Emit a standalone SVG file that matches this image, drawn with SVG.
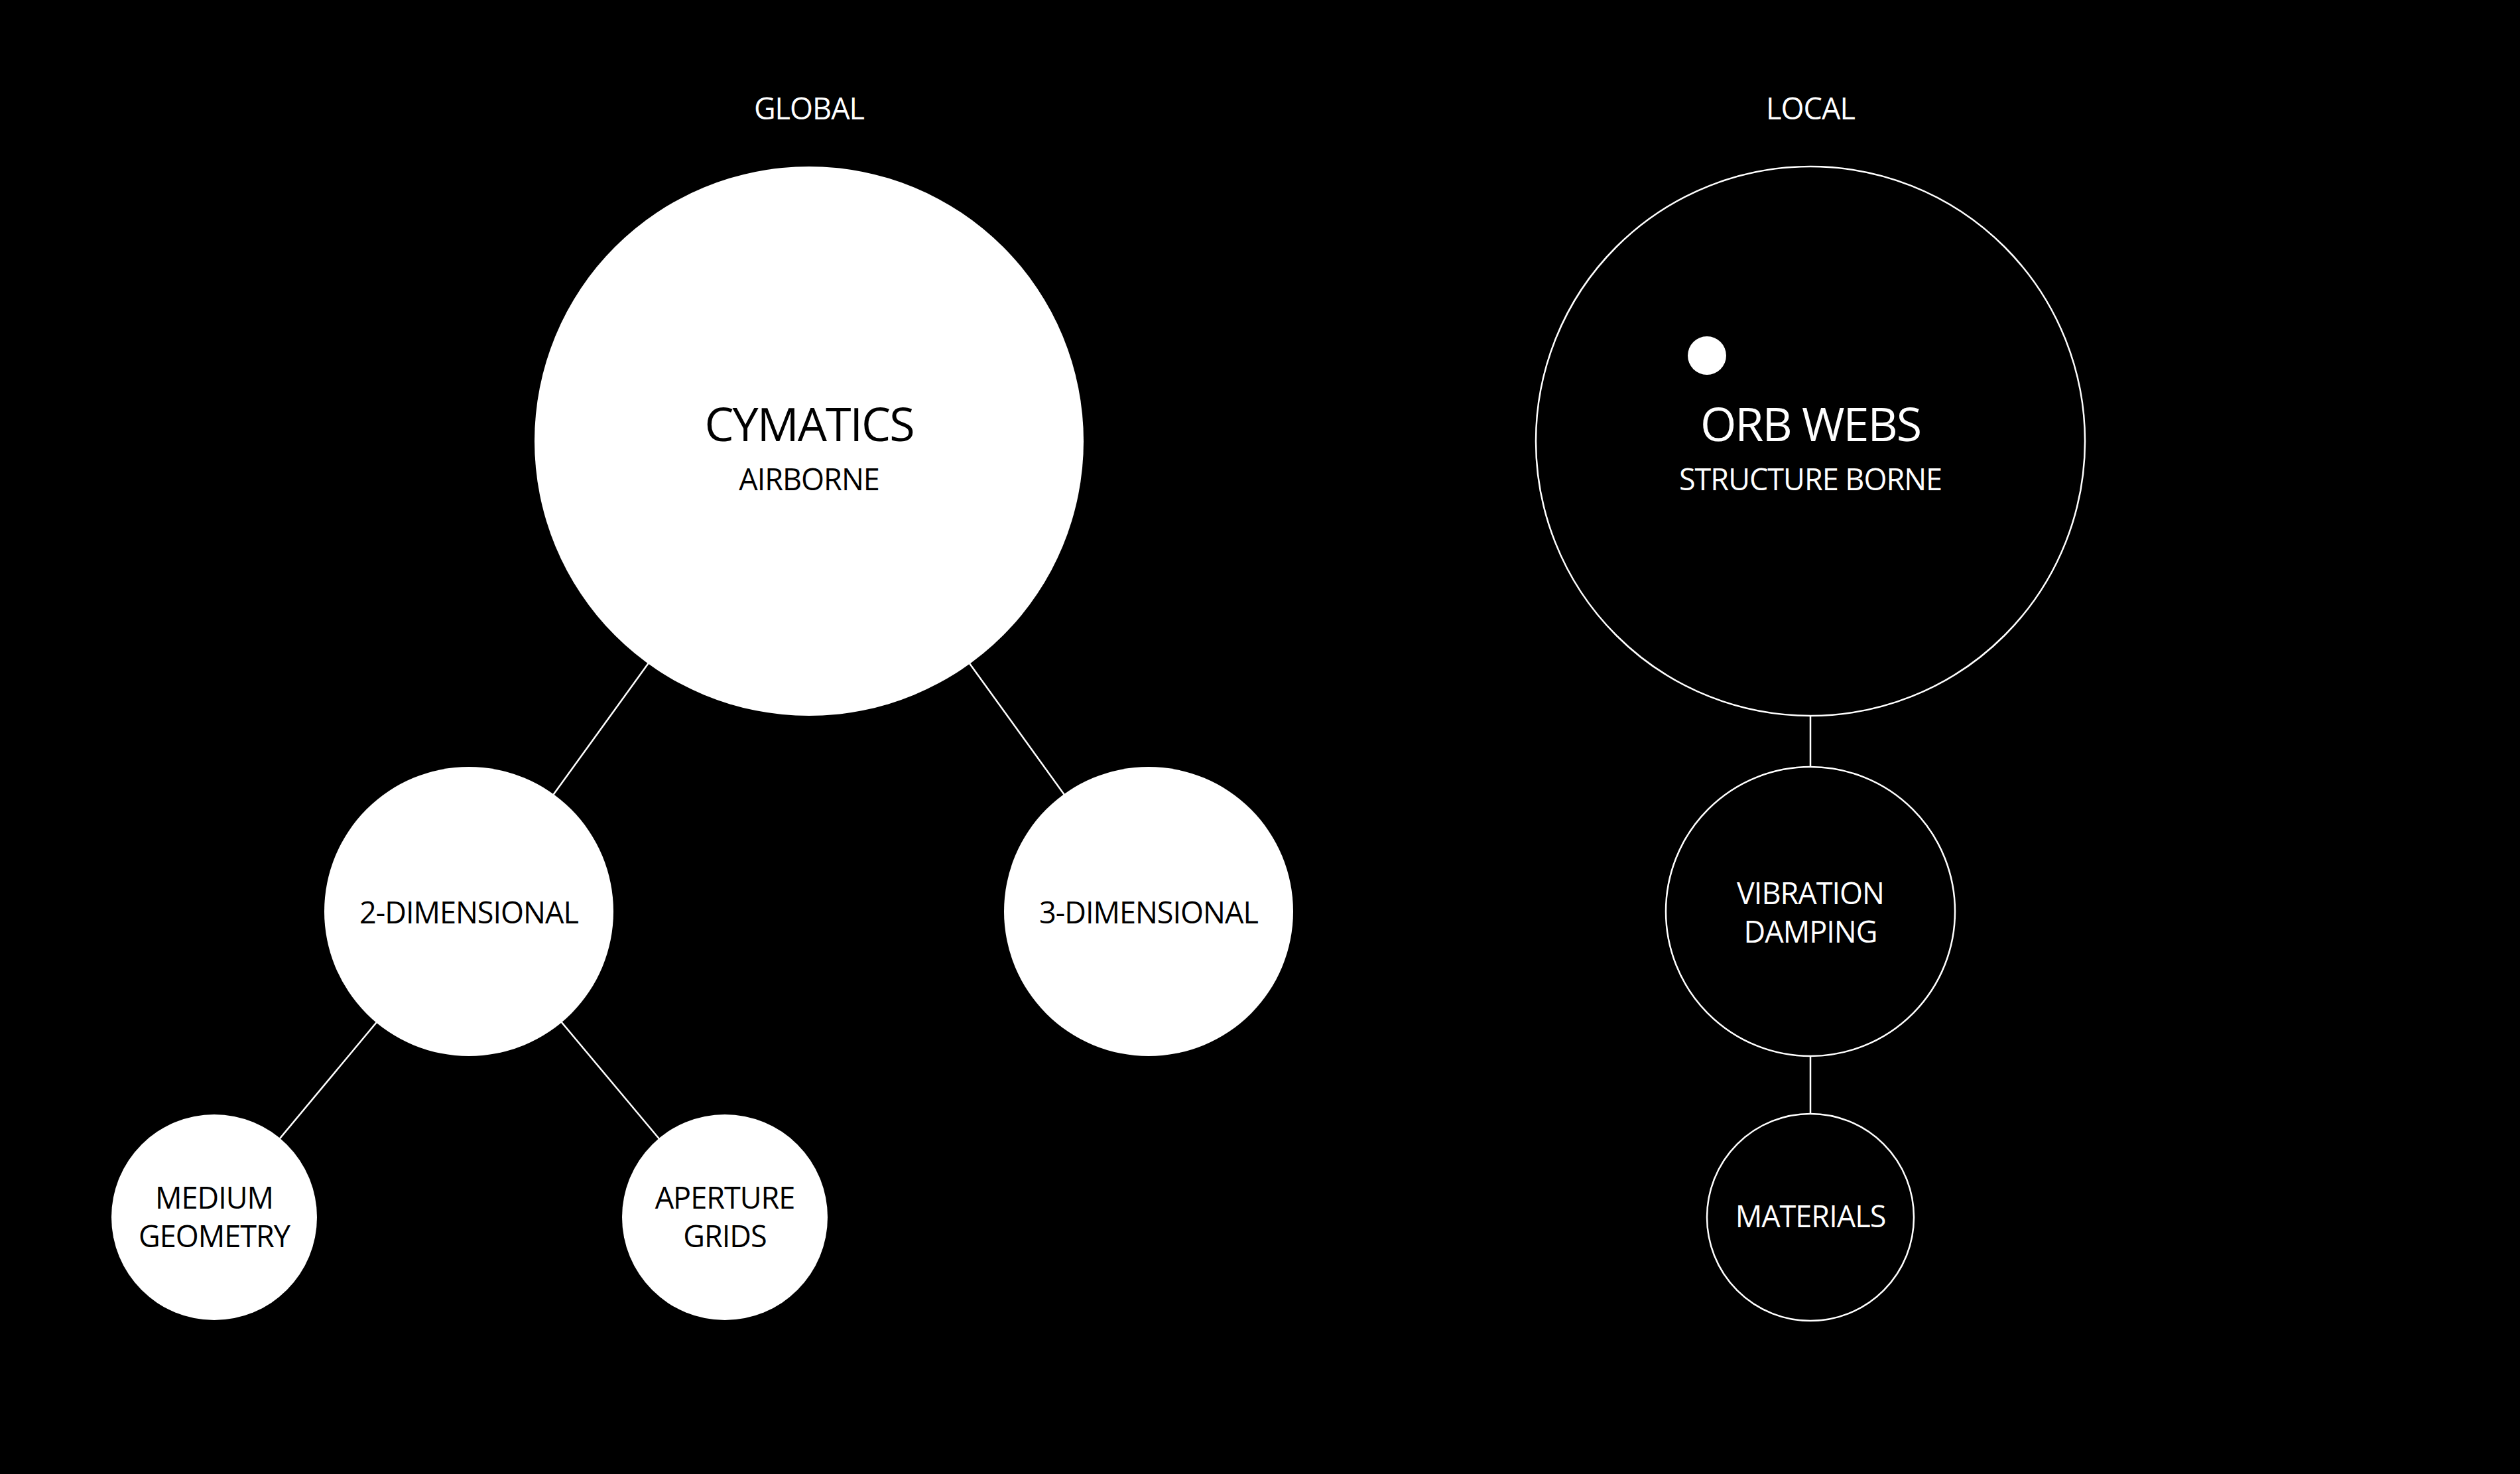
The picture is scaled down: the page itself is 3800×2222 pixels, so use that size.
<svg xmlns="http://www.w3.org/2000/svg" width="3800" height="2222" viewBox="0 0 3800 2222">
<style>
.bg{fill:#000}
.solid{fill:#fff;stroke:none}
.ring{fill:#000;stroke:#fff;stroke-width:2.5}
.conn{stroke:#fff;stroke-width:2.5;fill:none}
text{font-family:"Open Sans","Liberation Sans",sans-serif;text-anchor:middle}
.dk{fill:#000}
.lt{fill:#fff}
.big{font-size:70px;letter-spacing:-2px}
.med{font-size:45px;letter-spacing:-1px}
</style>
<rect class="bg" x="0" y="0" width="3800" height="2222"/>
<g id="headers">
<text class="lt med" x="1220" y="180">GLOBAL</text>
<text class="lt med" x="2730" y="180">LOCAL</text>
</g>
<g id="connectors">
<line class="conn" x1="1220" y1="665" x2="707" y2="1374"/>
<line class="conn" x1="1220" y1="665" x2="1732" y2="1374"/>
<line class="conn" x1="707" y1="1374" x2="323" y2="1835"/>
<line class="conn" x1="707" y1="1374" x2="1093" y2="1835"/>
<line class="conn" x1="2730" y1="1079" x2="2730" y2="1156"/>
<line class="conn" x1="2730" y1="1592" x2="2730" y2="1679"/>
</g>
<g id="cymatics">
<circle class="solid" cx="1220" cy="665" r="414"/>
<text class="dk big" x="1220" y="665">CYMATICS</text>
<text class="dk med" x="1220" y="739">AIRBORNE</text>
</g>
<g id="orb-webs">
<circle class="ring" cx="2730" cy="665" r="414"/>
<circle class="solid" cx="2574" cy="536" r="29"/>
<text class="lt big" x="2730" y="665">ORB WEBS</text>
<text class="lt med" x="2730" y="739">STRUCTURE BORNE</text>
</g>
<g id="two-dimensional">
<circle class="solid" cx="707" cy="1374" r="218"/>
<text class="dk med" x="707" y="1392">2-DIMENSIONAL</text>
</g>
<g id="three-dimensional">
<circle class="solid" cx="1732" cy="1374" r="218"/>
<text class="dk med" x="1732" y="1392">3-DIMENSIONAL</text>
</g>
<g id="vibration-damping">
<circle class="ring" cx="2730" cy="1374" r="218"/>
<text class="lt med" x="2730" y="1363">VIBRATION</text>
<text class="lt med" x="2730" y="1421">DAMPING</text>
</g>
<g id="medium-geometry">
<circle class="solid" cx="323" cy="1835" r="155"/>
<text class="dk med" x="323" y="1822">MEDIUM</text>
<text class="dk med" x="323" y="1880">GEOMETRY</text>
</g>
<g id="aperture-grids">
<circle class="solid" cx="1093" cy="1835" r="155"/>
<text class="dk med" x="1093" y="1822">APERTURE</text>
<text class="dk med" x="1093" y="1880">GRIDS</text>
</g>
<g id="materials">
<circle class="ring" cx="2730" cy="1835" r="156"/>
<text class="lt med" x="2730" y="1850">MATERIALS</text>
</g>
</svg>
